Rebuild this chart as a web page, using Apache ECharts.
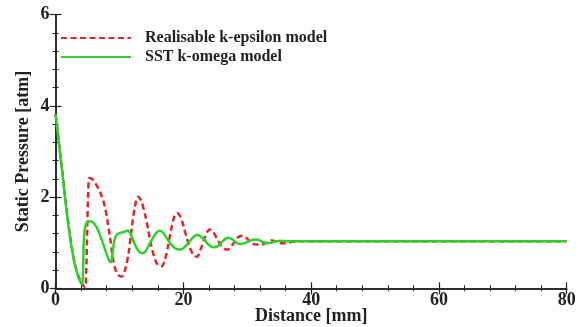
<!DOCTYPE html>
<html>
<head>
<meta charset="utf-8">
<script src="https://cdn.jsdelivr.net/npm/echarts@6/dist/echarts.min.js"></script>
<style>html,body{margin:0;padding:0;background:#fff;}#c{width:586px;height:327px;}</style>
</head>
<body>
<div id="c"></div>
<script>
var xTicks = [0, 20, 40, 60, 80];
var yTicks = [0, 2, 4, 6];
var seriesNames = ['Realisable k-epsilon model', 'SST k-omega model'];

var rkeX = [0, 0.3, 0.7, 1.0, 1.5, 2.0, 2.5, 3.0, 3.5, 4.0, 4.4, 4.65, 4.8, 4.95, 5.1, 5.3, 5.7, 6.2, 6.95, 7.7, 8.1, 8.5, 9.0, 9.5, 10.0, 10.4, 10.9, 11.4, 11.9, 12.4, 12.9, 13.4, 14.0, 14.5, 15.0, 15.6, 16.1, 16.6, 17.1, 17.6, 18.1, 18.6, 19.0, 19.5, 20.0, 20.5, 21.0, 21.6, 22.1, 22.7, 23.3, 23.8, 24.2, 24.7, 25.3, 25.9, 26.5, 27.0, 27.6, 28.3, 28.8, 29.3, 29.9, 30.6, 31.4, 32.2, 33.0, 33.8, 34.5, 35.2, 36.2, 37.0, 38, 40, 80];
var rkeY = [3.82, 3.47, 2.98, 2.63, 2.0, 1.42, 0.93, 0.55, 0.3, 0.13, 0.05, 0.03, 0.4, 1.3, 2.1, 2.42, 2.4, 2.31, 2.12, 1.8, 1.5, 1.14, 0.63, 0.36, 0.27, 0.26, 0.42, 0.75, 1.3, 1.78, 2.01, 1.92, 1.62, 1.28, 0.92, 0.62, 0.5, 0.48, 0.62, 0.92, 1.3, 1.58, 1.65, 1.58, 1.38, 1.12, 0.9, 0.73, 0.69, 0.85, 1.1, 1.25, 1.29, 1.23, 1.08, 0.94, 0.86, 0.85, 0.94, 1.08, 1.14, 1.15, 1.1, 1.0, 0.96, 0.96, 1.0, 1.05, 1.03, 0.99, 0.99, 1.02, 1.03, 1.03, 1.03];

var sstX = [0, 0.3, 0.7, 1.0, 1.5, 2.0, 2.5, 3.0, 3.5, 3.8, 4.1, 4.25, 4.35, 4.45, 4.7, 5.0, 5.4, 5.9, 6.5, 7.0, 7.5, 8.0, 8.4, 8.65, 8.9, 9.2, 9.6, 10.2, 10.8, 11.3, 11.7, 12.2, 12.7, 13.1, 13.6, 14.1, 14.7, 15.3, 15.8, 16.3, 16.8, 17.4, 18.0, 18.7, 19.4, 20.0, 20.7, 21.4, 22.1, 22.6, 23.3, 24.0, 24.7, 25.3, 26.0, 26.6, 27.1, 27.7, 28.3, 28.9, 29.6, 30.4, 31.2, 31.8, 32.5, 33.2, 34.0, 34.8, 35.5, 36.5, 40, 80];
var sstY = [3.82, 3.45, 2.95, 2.6, 1.95, 1.38, 0.9, 0.52, 0.27, 0.16, 0.09, 0.2, 0.7, 1.15, 1.38, 1.45, 1.47, 1.44, 1.32, 1.15, 0.95, 0.75, 0.6, 0.57, 0.75, 1.05, 1.18, 1.22, 1.24, 1.27, 1.2, 1.03, 0.88, 0.8, 0.77, 0.82, 0.97, 1.12, 1.22, 1.26, 1.22, 1.1, 0.98, 0.88, 0.85, 0.88, 0.98, 1.1, 1.17, 1.15, 1.06, 0.95, 0.9, 0.92, 1.01, 1.09, 1.11, 1.07, 1.0, 0.97, 0.99, 1.04, 1.07, 1.06, 1.01, 0.99, 1.01, 1.04, 1.04, 1.03, 1.03, 1.03];

function pairs(xs, ys) { return xs.map(function (x, i) { return [x, ys[i]]; }); }

var FONT = '"Liberation Serif", "Times New Roman", serif';
var axisLine = { show: true, lineStyle: { color: '#222', width: 1.5 } };
var tick = { show: true, inside: true, length: 6, lineStyle: { color: '#222', width: 1.2 } };
var minor = { show: true, splitNumber: 5, length: 3, lineStyle: { color: '#222', width: 1 } };

var chart = echarts.init(document.getElementById('c'), null, { renderer: 'canvas' });
chart.setOption({
  animation: false,
  backgroundColor: '#fff',
  grid: { left: 55.6, right: 19.3, top: 14.7, bottom: 38.7, containLabel: false, outerBoundsMode: 'none' },
  legend: {
    orient: 'vertical', left: 60, top: 30, padding: 0, itemWidth: 70, itemHeight: 10, itemGap: 3,
    data: seriesNames,
    itemStyle: { opacity: 0 },
    textStyle: { fontFamily: FONT, fontWeight: 'bold', fontSize: 16, color: '#222', padding: [0, 0, 0, 9] }
  },
  xAxis: [{
    type: 'value', min: xTicks[0], max: xTicks[xTicks.length - 1], interval: 20, position: 'bottom',
    name: 'Distance [mm]', nameLocation: 'middle', nameGap: 19, nameMoveOverlap: false,
    nameTextStyle: { fontFamily: FONT, fontWeight: 'bold', fontSize: 18, color: '#222' },
    axisLine: axisLine, axisTick: tick, minorTick: minor, splitLine: { show: false },
    axisLabel: { margin: 3, fontFamily: FONT, fontWeight: 'bold', fontSize: 18, color: '#222' }
  }, {
    type: 'value', min: 0, max: 80, interval: 20, position: 'top',
    axisLine: axisLine, axisTick: tick, minorTick: minor, splitLine: { show: false },
    axisLabel: { show: false }
  }],
  yAxis: [{
    type: 'value', min: yTicks[0], max: yTicks[yTicks.length - 1], interval: 2, position: 'left',
    name: 'Static Pressure [atm]', nameLocation: 'middle', nameGap: 23, nameMoveOverlap: false,
    nameTextStyle: { fontFamily: FONT, fontWeight: 'bold', fontSize: 18, color: '#222' },
    axisLine: axisLine, axisTick: tick, minorTick: minor, splitLine: { show: false },
    axisLabel: { margin: 6, fontFamily: FONT, fontWeight: 'bold', fontSize: 18, color: '#222' }
  }, {
    type: 'value', min: 0, max: 6, interval: 2, position: 'right',
    axisLine: axisLine, axisTick: tick, minorTick: minor, splitLine: { show: false },
    axisLabel: { show: false }
  }],
  series: [{
    name: seriesNames[0], type: 'line', symbol: 'none', smooth: 0.3,
    data: pairs(rkeX, rkeY), z: 2,
    lineStyle: { color: '#e3262b', width: 2.5, type: [6, 3.5] }, itemStyle: { color: '#e3262b' }
  }, {
    name: seriesNames[1], type: 'line', symbol: 'none', smooth: 0.3,
    data: pairs(sstX, sstY), z: 3,
    lineStyle: { color: '#2bd22b', width: 2.5 }, itemStyle: { color: '#2bd22b' }
  }]
});
</script>
</body>
</html>
